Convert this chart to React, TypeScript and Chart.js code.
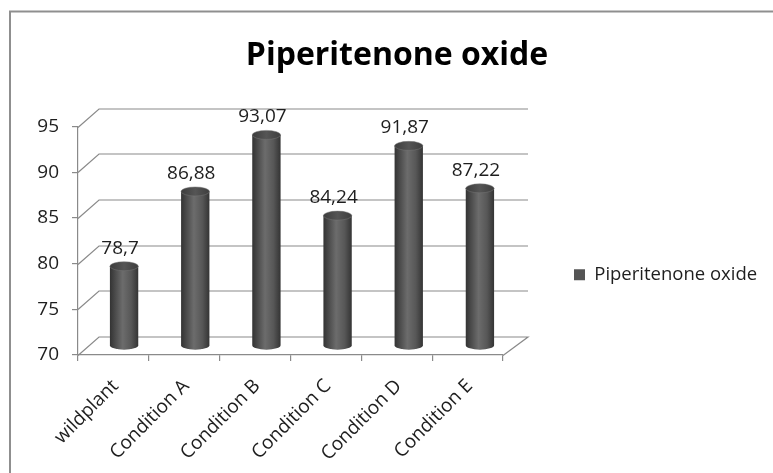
import React, { useEffect, useRef } from "react";
import { Chart, registerables } from "chart.js";

Chart.register(...registerables);

// ---- data ----
const categories = ["wildplant", "Condition A", "Condition B", "Condition C", "Condition D", "Condition E"];
const seriesLabel = "Piperitenone oxide";
const values = [78.7, 86.88, 93.07, 84.24, 91.87, 87.22];
const yMin = 70;
const yMax = 95;
const yStep = 5;

// ---- style / layout ----
const W = 773;
const H = 473;
const FAMILY = "'Open Sans', 'DejaVu Sans', sans-serif";
const GRID = "#8a8a8a";
const TEXT = "#1e1e1e";
const SERIES_COLOR = "#555555";
const DX_L = 21; // depth offset at left wall
const DX_R = 25; // depth offset at right end
const DY = 18.5; // depth offset (vertical)
const AREA = { left: 78, right: 503, top: 126.5, bottom: 355 };
const TITLE_SIZE = 32;
const TITLE_SHIFT = 10.5;
const TITLE_CENTER_Y = 56;
const TICK_SIZE = 19;
const XTICK_SIZE = 19;
const LABEL_SIZE = 19;
const LEGEND_SIZE = 18.5;
const LEGEND_BOX = 11;
const LEGEND_GAP = 71;
const CAP_RY = 4.5;

const fmt = (v: number) => String(v).replace(".", ",");

function measure(text: string, font: string) {
  const c = document.createElement("canvas").getContext("2d")!;
  c.font = font;
  return c.measureText(text).width;
}

function depthShift(chart: any, x: number) {
  const a = chart.chartArea;
  const t = (x - a.left) / (a.right - a.left);
  return DX_L + (DX_R - DX_L) * t;
}

const cylinderPlugin = {
  id: "cylinder3d",
  beforeDraw(chart: any) {
    const ctx = chart.ctx;
    ctx.save();
    ctx.fillStyle = "#ffffff";
    ctx.fillRect(0, 0, chart.width, chart.height);
    ctx.strokeStyle = "#8f8f8f";
    ctx.lineWidth = 2;
    ctx.strokeRect(10, 11.5, chart.width + 40, chart.height + 40);
    ctx.restore();
  },
  beforeDatasetsDraw(chart: any) {
    const ctx = chart.ctx;
    const a = chart.chartArea;
    const ys = chart.scales.y;
    ctx.save();
    ctx.strokeStyle = GRID;
    ctx.lineWidth = 1.2;
    ys.ticks.forEach((t: any) => {
      const py = Math.round(ys.getPixelForValue(t.value)) + 0.5;
      ctx.beginPath();
      ctx.moveTo(a.left, py);
      ctx.lineTo(a.left + DX_L, py - DY);
      ctx.lineTo(a.right + DX_R, py - DY);
      if (t.value === ys.min) ctx.lineTo(a.right, py);
      ctx.stroke();
    });
    ctx.restore();
  },
  afterDatasetsDraw(chart: any) {
    const ctx = chart.ctx;
    const meta = chart.getDatasetMeta(0);
    meta.data.forEach((el: any, i: number) => {
      const { x, y, base, width } = el.getProps(["x", "y", "base", "width"], true);
      const sx = depthShift(chart, x) / 2;
      const cx = x + sx;
      const top = y - DY / 2;
      const bot = base - DY / 2;
      const rx = width / 2;
      ctx.save();
      const g = ctx.createLinearGradient(cx - rx, 0, cx + rx, 0);
      g.addColorStop(0, "#333333");
      g.addColorStop(0.18, "#4a4a4a");
      g.addColorStop(0.45, "#6c6c6c");
      g.addColorStop(0.75, "#575757");
      g.addColorStop(1, "#343434");
      ctx.fillStyle = g;
      ctx.beginPath();
      ctx.moveTo(cx - rx, top);
      ctx.lineTo(cx - rx, bot);
      ctx.ellipse(cx, bot, rx, CAP_RY, 0, Math.PI, 0, true);
      ctx.lineTo(cx + rx, top);
      ctx.closePath();
      ctx.fill();
      const gt = ctx.createLinearGradient(cx - rx, 0, cx + rx, 0);
      gt.addColorStop(0, "#3c3c3c");
      gt.addColorStop(0.5, "#555555");
      gt.addColorStop(1, "#3e3e3e");
      ctx.fillStyle = gt;
      ctx.beginPath();
      ctx.ellipse(cx, top, rx, CAP_RY, 0, 0, Math.PI * 2);
      ctx.fill();
      ctx.strokeStyle = "rgba(120,120,120,0.6)";
      ctx.lineWidth = 0.8;
      ctx.stroke();
      ctx.fillStyle = TEXT;
      ctx.font = `${LABEL_SIZE}px ${FAMILY}`;
      ctx.textAlign = "center";
      ctx.textBaseline = "middle";
      ctx.fillText(fmt(values[i]), cx - 4, top - 18);
      ctx.restore();
    });
  },
};

export default function App() {
  const ref = useRef<HTMLCanvasElement | null>(null);

  useEffect(() => {
    if (!ref.current) return;
    const legendTextW = measure(seriesLabel, `${LEGEND_SIZE}px ${FAMILY}`);
    const legendW = LEGEND_GAP + LEGEND_BOX + LEGEND_SIZE / 2 + legendTextW + 10;
    const padR = Math.max(0, W - AREA.right - legendW);
    const padL = padR + 2 * TITLE_SHIFT;
    const titleLine = TITLE_SIZE * 1.2;
    const titlePadTop = TITLE_CENTER_Y - titleLine / 2;
    const titlePadBottom = AREA.top - titlePadTop - titleLine;

    const chart = new Chart(ref.current, {
      type: "bar",
      data: {
        labels: categories,
        datasets: [
          {
            label: seriesLabel,
            data: values,
            base: yMin,
            backgroundColor: "rgba(0,0,0,0)",
            borderWidth: 0,
            barPercentage: 0.4,
            categoryPercentage: 1,
          } as any,
        ],
      },
      options: {
        animation: false,
        responsive: false,
        maintainAspectRatio: false,
        devicePixelRatio: 1,
        layout: { padding: { left: padL, right: padR, top: 0, bottom: 0 } },
        plugins: {
          tooltip: { enabled: false },
          title: {
            display: true,
            text: seriesLabel,
            color: "#000000",
            font: { family: FAMILY, size: TITLE_SIZE, weight: "bold" },
            padding: { top: titlePadTop, bottom: titlePadBottom },
          },
          legend: {
            display: true,
            position: "right",
            align: "end",
            fullSize: false,
            maxWidth: legendW,
            labels: {
              boxWidth: LEGEND_BOX,
              boxHeight: LEGEND_BOX,
              padding: LEGEND_GAP,
              color: TEXT,
              font: { family: FAMILY, size: LEGEND_SIZE },
              generateLabels: (chart: any) =>
                chart.data.datasets.map((ds: any, i: number) => ({
                  text: ds.label,
                  fillStyle: SERIES_COLOR,
                  strokeStyle: SERIES_COLOR,
                  lineWidth: 0,
                  hidden: false,
                  datasetIndex: i,
                  fontColor: TEXT,
                })),
            },
          } as any,
        },
        scales: {
          x: {
            grid: { display: true, drawOnChartArea: false, tickLength: 6, color: GRID, lineWidth: 1.2 },
            border: { display: true, color: GRID, width: 1.2 },
            ticks: {
              color: TEXT,
              font: { family: FAMILY, size: XTICK_SIZE },
              minRotation: 45,
              maxRotation: 45,
              autoSkip: false,
              padding: 14,
              labelOffset: 2,
            },
            afterFit: (s: any) => {
              s.height = H - AREA.bottom;
            },
          },
          y: {
            min: yMin,
            max: yMax,
            grid: { display: true, drawOnChartArea: false, tickLength: 6, color: GRID, lineWidth: 1.2 },
            border: { display: true, color: GRID, width: 1.2 },
            ticks: {
              stepSize: yStep,
              color: TEXT,
              padding: 13,
              font: { family: FAMILY, size: TICK_SIZE },
            },
            afterFit: (s: any) => {
              s.width = AREA.left - padL;
            },
          },
        },
      },
      plugins: [cylinderPlugin],
    });
    return () => chart.destroy();
  }, []);

  return (
    <div style={{ position: "fixed", left: 0, top: 0, width: W, height: H, background: "#fff" }}>
      <canvas ref={ref} width={W} height={H} style={{ display: "block", width: W, height: H }} />
    </div>
  );
}
